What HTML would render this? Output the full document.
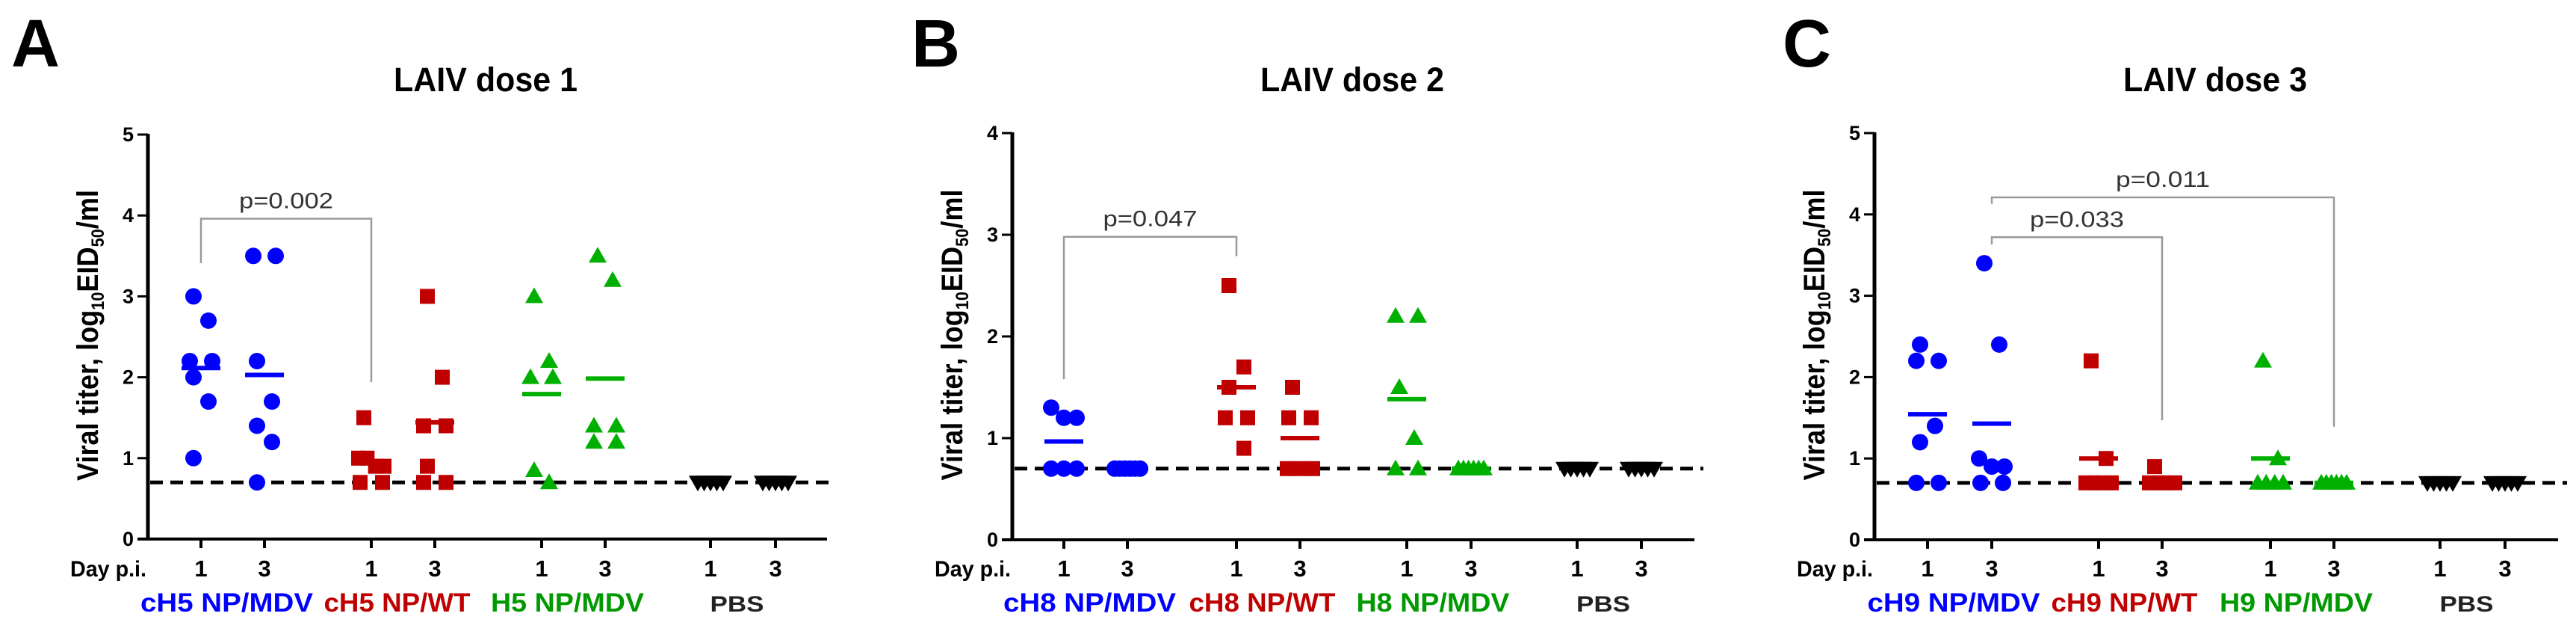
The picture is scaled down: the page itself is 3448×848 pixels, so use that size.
<!DOCTYPE html>
<html><head><meta charset="utf-8"><style>
html,body{margin:0;padding:0;background:#fff;overflow:hidden;}
svg{display:block;font-family:"Liberation Sans",Arial,sans-serif;}
</style></head><body>
<svg id="fig" width="3448" height="848" viewBox="0 0 3448 848" xmlns="http://www.w3.org/2000/svg"></svg>
<script>
// ---- data (log10 EID50/ml) ----
const dayLabels = ["1","3"];
const detectionLimit = 0.7;
// Panel A
const A_blue_d1 = [3.0,2.7,2.2,2.2,2.0,1.7,1.0];
const A_blue_d3 = [3.5,3.5,2.2,1.7,1.4,1.2,0.7];
const A_red_d1 = [1.5,1.0,1.0,0.9,0.9,0.7,0.7];
const A_red_d3 = [3.0,2.0,1.4,1.4,0.9,0.7,0.7];
const A_green_d1 = [3.0,2.2,2.0,2.0,0.85,0.7];
const A_green_d3 = [3.5,3.2,1.4,1.4,1.2,1.2];
const A_pbs_d1 = [0.7,0.7,0.7,0.7,0.7];
const A_pbs_d3 = [0.7,0.7,0.7,0.7,0.7];
// Panel B
const B_blue_d1 = [1.3,1.2,1.2,0.7,0.7,0.7];
const B_blue_d3 = [0.7,0.7,0.7,0.7,0.7,0.7];
const B_red_d1 = [2.5,1.7,1.5,1.2,1.2,0.9];
const B_red_d3 = [1.5,1.2,1.2,0.7,0.7,0.7];
const B_green_d1 = [2.2,2.2,1.5,1.0,0.7,0.7];
const B_green_d3 = [0.7,0.7,0.7,0.7,0.7,0.7];
const B_pbs_d1 = [0.7,0.7,0.7,0.7,0.7];
const B_pbs_d3 = [0.7,0.7,0.7,0.7,0.7];
// Panel C
const C_blue_d1 = [2.4,2.2,2.2,1.4,1.2,0.7,0.7];
const C_blue_d3 = [3.4,2.4,1.0,0.9,0.9,0.7,0.7];
const C_red_d1 = [2.2,1.0,0.7,0.7,0.7,0.7];
const C_red_d3 = [0.9,0.7,0.7,0.7,0.7];
const C_green_d1 = [2.2,1.0,0.7,0.7,0.7,0.7];
const C_green_d3 = [0.7,0.7,0.7,0.7,0.7,0.7];
const C_pbs_d1 = [0.7,0.7,0.7,0.7,0.7];
const C_pbs_d3 = [0.7,0.7,0.7,0.7,0.7];
// tick labels
const A_yTicks = [0,1,2,3,4,5];
const B_yTicks = [0,1,2,3,4];
const C_yTicks = [0,1,2,3,4,5];
// group labels
const A_groups = ["cH5 NP/MDV","cH5 NP/WT","H5 NP/MDV","PBS"];
const B_groups = ["cH8 NP/MDV","cH8 NP/WT","H8 NP/MDV","PBS"];
const C_groups = ["cH9 NP/MDV","cH9 NP/WT","H9 NP/MDV","PBS"];
// significance brackets: [fromCol, toCol, leftStartY, topY, rightEndY, label]
const A_brackets = [[0,2,3.41,3.96,1.94,"p=0.002"]];
const B_brackets = [[0,2,1.58,2.98,2.79,"p=0.047"]];
const C_brackets = [[1,3,3.63,3.72,1.47,"p=0.033"],[1,5,4.13,4.21,1.39,"p=0.011"]];

const colors = ["#0000ff","#c00000","#00b000","#000000"];
const labelColors = ["#0000ff","#c00000","#009a00","#222222"];
const shapes = ["circle","square","triangle","invtriangle"];
const NS = "http://www.w3.org/2000/svg";
const svg = document.getElementById("fig");
function el(tag, attrs, parent){
  const e = document.createElementNS(NS, tag);
  for (const k in attrs) e.setAttribute(k, attrs[k]);
  (parent||svg).appendChild(e);
  return e;
}

const panels = [
  {letter:"A", title:"LAIV dose 1", ax:198, top:180, bot:721, right:1107, ymax:5,
   cols:[269,354,497,582,725,810,951,1038], ticks:A_yTicks, groups:A_groups, brackets:A_brackets,
   data:[A_blue_d1,A_blue_d3,A_red_d1,A_red_d3,A_green_d1,A_green_d3,A_pbs_d1,A_pbs_d3],
   letterX:15, titleX:650},
  {letter:"B", title:"LAIV dose 2", ax:1355, top:178, bot:722, right:2268, ymax:4,
   cols:[1424,1509,1655,1740,1883,1969,2111,2197], ticks:B_yTicks, groups:B_groups, brackets:B_brackets,
   data:[B_blue_d1,B_blue_d3,B_red_d1,B_red_d3,B_green_d1,B_green_d3,B_pbs_d1,B_pbs_d3],
   letterX:1220, titleX:1810},
  {letter:"C", title:"LAIV dose 3", ax:2509, top:178, bot:722, right:3424, ymax:5,
   cols:[2580,2666,2809,2894,3039,3124,3266,3353], ticks:C_yTicks, groups:C_groups, brackets:C_brackets,
   data:[C_blue_d1,C_blue_d3,C_red_d1,C_red_d3,C_green_d1,C_green_d3,C_pbs_d1,C_pbs_d3],
   letterX:2386, titleX:2965}
];

function jitter(vals){
  const idx = vals.map((v,i)=>i).sort((a,b)=>vals[b]-vals[a]);
  const off = new Array(vals.length).fill(0);
  let i=0, single=0;
  while(i<idx.length){
    let j=i;
    while(j+1<idx.length && Math.abs(vals[idx[i]]-vals[idx[j+1]])<0.12) j++;
    const n=j-i+1;
    if(n===1){ off[idx[i]] = (single%2===0?-1:1)*10; single++; }
    else {
      const sp = Math.min(30, 34/(n-1));
      for(let k=0;k<n;k++) off[idx[i+k]] = (k-(n-1)/2)*sp;
    }
    i=j+1;
  }
  return off;
}

function marker(shape, cx, cy, color, g){
  let m;
  if(shape==="circle") m = el("circle",{cx:cx,cy:cy,r:11,fill:color},g);
  else if(shape==="square") m = el("rect",{x:cx-10,y:cy-10,width:20,height:20,fill:color},g);
  else if(shape==="triangle") m = el("polygon",{points:`${cx},${cy-12} ${cx+12},${cy+9} ${cx-12},${cy+9}`,fill:color},g);
  else m = el("polygon",{points:`${cx-12},${cy-9} ${cx+12},${cy-9} ${cx},${cy+12}`,fill:color},g);
  
  
  return m;
}

panels.forEach((p)=>{
  const g = el("g",{});
  
  
  const y = v => p.bot - (v/p.ymax)*(p.bot-p.top);

  const L = el("text",{x:p.letterX,y:89,"font-size":90,"font-weight":"bold",fill:"#000"},g);
  L.textContent = p.letter;
  
  

  const T = el("text",{x:p.titleX,y:122,"font-size":45,"font-weight":"bold","text-anchor":"middle",textLength:246,lengthAdjust:"spacingAndGlyphs",fill:"#000"},g);
  T.textContent = p.title;
  
  

  const yt = el("text",{x:0,y:0,"font-size":40,"font-weight":"bold","text-anchor":"middle",textLength:389,lengthAdjust:"spacingAndGlyphs",transform:`translate(${p.ax-67},${(p.top+p.bot)/2-2}) rotate(-90)`,fill:"#000"},g);
  yt.innerHTML = 'Viral titer, log<tspan font-size="24" dy="8">10</tspan><tspan dy="-8">EID</tspan><tspan font-size="24" dy="8">50</tspan><tspan dy="-8">/ml</tspan>';
  
  

  const ya = el("line",{x1:p.ax,y1:p.top-1,x2:p.ax,y2:p.bot+2,stroke:"#000","stroke-width":5},g);
  
  
  const xa = el("line",{x1:p.ax-14,y1:p.bot,x2:p.right,y2:p.bot,stroke:"#000","stroke-width":4},g);
  
  

  p.ticks.forEach(t=>{
    const tl = el("line",{x1:p.ax-14,y1:y(t),x2:p.ax,y2:y(t),stroke:"#000","stroke-width":3},g);
    
    
    const tt = el("text",{x:p.ax-19,y:y(t)+9,"font-size":27,"font-weight":"bold","text-anchor":"end",fill:"#000"},g);
    tt.textContent = t;
    
    
  });

  const dl = el("line",{x1:p.ax+3,y1:y(detectionLimit),x2:p.right+12,y2:y(detectionLimit),stroke:"#000","stroke-width":5,"stroke-dasharray":"17 10"},g);
  
  

  const day = el("text",{x:p.ax-2,y:771,"font-size":30,"font-weight":"bold","text-anchor":"end",textLength:102,lengthAdjust:"spacingAndGlyphs",fill:"#000"},g);
  day.textContent = "Day p.i.";
  
  

  p.cols.forEach((cx,ci)=>{
    const xt = el("line",{x1:cx,y1:p.bot,x2:cx,y2:p.bot+12,stroke:"#000","stroke-width":4},g);
    
    
    const dt = el("text",{x:cx,y:771,"font-size":31,"font-weight":"bold","text-anchor":"middle",fill:"#000"},g);
    dt.textContent = dayLabels[ci%2];
    
    

    const grp = Math.floor(ci/2);
    const vals = p.data[ci];
    const off = jitter(vals);
    vals.forEach((v,vi)=>marker(shapes[grp], cx+off[vi], y(v), colors[grp], g));
    if(grp<3){
      const mean = vals.reduce((a,b)=>a+b,0)/vals.length;
      const ml = el("line",{x1:cx-26,y1:y(mean),x2:cx+26,y2:y(mean),stroke:colors[grp],"stroke-width":6},g);
      
      
    }
  });

  p.groups.forEach((name,gi)=>{
    const cx = (p.cols[gi*2]+p.cols[gi*2+1])/2 - 8;
    const gl = el("text",{x:cx,y:818,"font-size":35,"font-weight":"bold","text-anchor":"middle",fill:labelColors[gi]},g);
    if(gi<3){ gl.setAttribute("textLength", name.indexOf("WT")>=0?196:(name[0]==="c"?231:205)); gl.setAttribute("lengthAdjust","spacingAndGlyphs"); }
    else { gl.setAttribute("font-size",30); gl.setAttribute("textLength",72); gl.setAttribute("lengthAdjust","spacingAndGlyphs"); }
    gl.textContent = name;
    
    
  });

  p.brackets.forEach(b=>{
    const x1 = p.cols[b[0]], x2 = p.cols[b[1]];
    const br = el("polyline",{points:`${x1},${y(b[2])} ${x1},${y(b[3])} ${x2},${y(b[3])} ${x2},${y(b[4])}`,fill:"none",stroke:"#999","stroke-width":2.5},g);
    
    
    const bt = el("text",{x:(x1+x2)/2,y:y(b[3])-14,"font-size":30,"text-anchor":"middle",textLength:126,lengthAdjust:"spacingAndGlyphs",fill:"#333"},g);
    bt.textContent = b[5];
    
    
  });
});
</script>
</body></html>
